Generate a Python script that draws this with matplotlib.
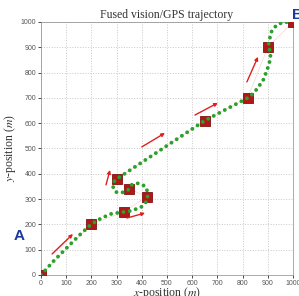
import matplotlib
matplotlib.use('Agg')
import matplotlib.pyplot as plt

# waypoints (red squares)
wp_x = [0, 200, 330, 420, 350, 300, 650, 820, 900, 1000]
wp_y = [0, 200, 250, 310, 340, 380, 610, 700, 900, 1000]

# fused trajectory
traj_x = [0, 50, 100, 150, 200, 240, 280, 329, 350, 366, 385, 400, 413, 421, 423,
          422, 419, 410, 400, 387, 373, 361, 353, 349, 340, 327, 313, 300, 292,
          287, 286, 287, 292, 300, 650, 735, 823, 845, 862, 882, 895, 906, 911,
          908, 902, 906, 915, 935, 962, 995]
traj_y = [0, 55, 105, 155, 201, 225, 242, 249, 252, 257, 263, 270, 283, 295, 309,
          327, 343, 352, 358, 362, 362, 357, 349, 339, 332, 327, 325, 327, 333,
          343, 352, 362, 372, 379, 610, 655, 701, 720, 742, 771, 804, 837, 870,
          888, 902, 929, 962, 988, 999, 999]

# direction arrows (start x, start y, end x, end y)
arr_x0 = [44, 258, 341, 400, 611, 817]
arr_y0 = [83, 356, 225, 506, 632, 763]
arr_x1 = [127, 274, 413, 492, 702, 861]
arr_y1 = [162, 415, 245, 561, 680, 862]

ticks = list(range(0, 1001, 100))

plt.rcParams['mathtext.fontset'] = 'stix'
fig = plt.figure(figsize=(2.99, 2.96), dpi=100)
ax = fig.add_axes([0.137, 0.071, 0.843, 0.855])

ax.plot(wp_x, wp_y, color='#f6c8c8', lw=0.4, zorder=2)
ax.plot(wp_x, wp_y, 's', ms=7, color='#b01818', mec='#801010', mew=0.6, zorder=3)
ax.plot(traj_x, traj_y, color='#2ca02c', lw=2.8, linestyle=(0, (0.01, 1.6)),
        dash_capstyle='round', zorder=4)

for i in range(len(arr_x0)):
    ax.annotate('', xy=(arr_x1[i], arr_y1[i]), xytext=(arr_x0[i], arr_y0[i]),
                arrowprops=dict(arrowstyle='-|>', color='#e02020', lw=1.0,
                                mutation_scale=5, shrinkA=0, shrinkB=0), zorder=5)

ax.set_xlim(0, 1000)
ax.set_ylim(0, 1000)
ax.set_xticks(ticks)
ax.set_yticks(ticks)
ax.tick_params(labelsize=5, length=2, width=0.5, pad=1.5)
for lab in ax.get_xticklabels() + ax.get_yticklabels():
    lab.set_fontfamily('Liberation Sans')
    lab.set_color('#555555')
ax.grid(True, linestyle=':', color='#c8c8c8', lw=0.7)
for s in ax.spines.values():
    s.set_linewidth(0.5)
    s.set_color('#888888')

ax.set_title('Fused vision/GPS trajectory', family='Liberation Serif', fontsize=8.5,
             color='#333333', pad=3)
ax.set_xlabel(r'$x$-position ($m$)', family='Liberation Serif', fontsize=8.5,
              color='#333333', labelpad=-1)
ax.set_ylabel(r'$y$-position ($m$)', family='Liberation Serif', fontsize=8.5,
              color='#333333', labelpad=2)

fig.text(0.045, 0.19, 'A', color='#1c3a9a', fontsize=11, fontweight='bold',
         family='Liberation Sans')
fig.text(0.975, 0.935, 'B', color='#1c3a9a', fontsize=11, fontweight='bold',
         family='Liberation Sans')

fig.savefig('out.png', dpi=100)
